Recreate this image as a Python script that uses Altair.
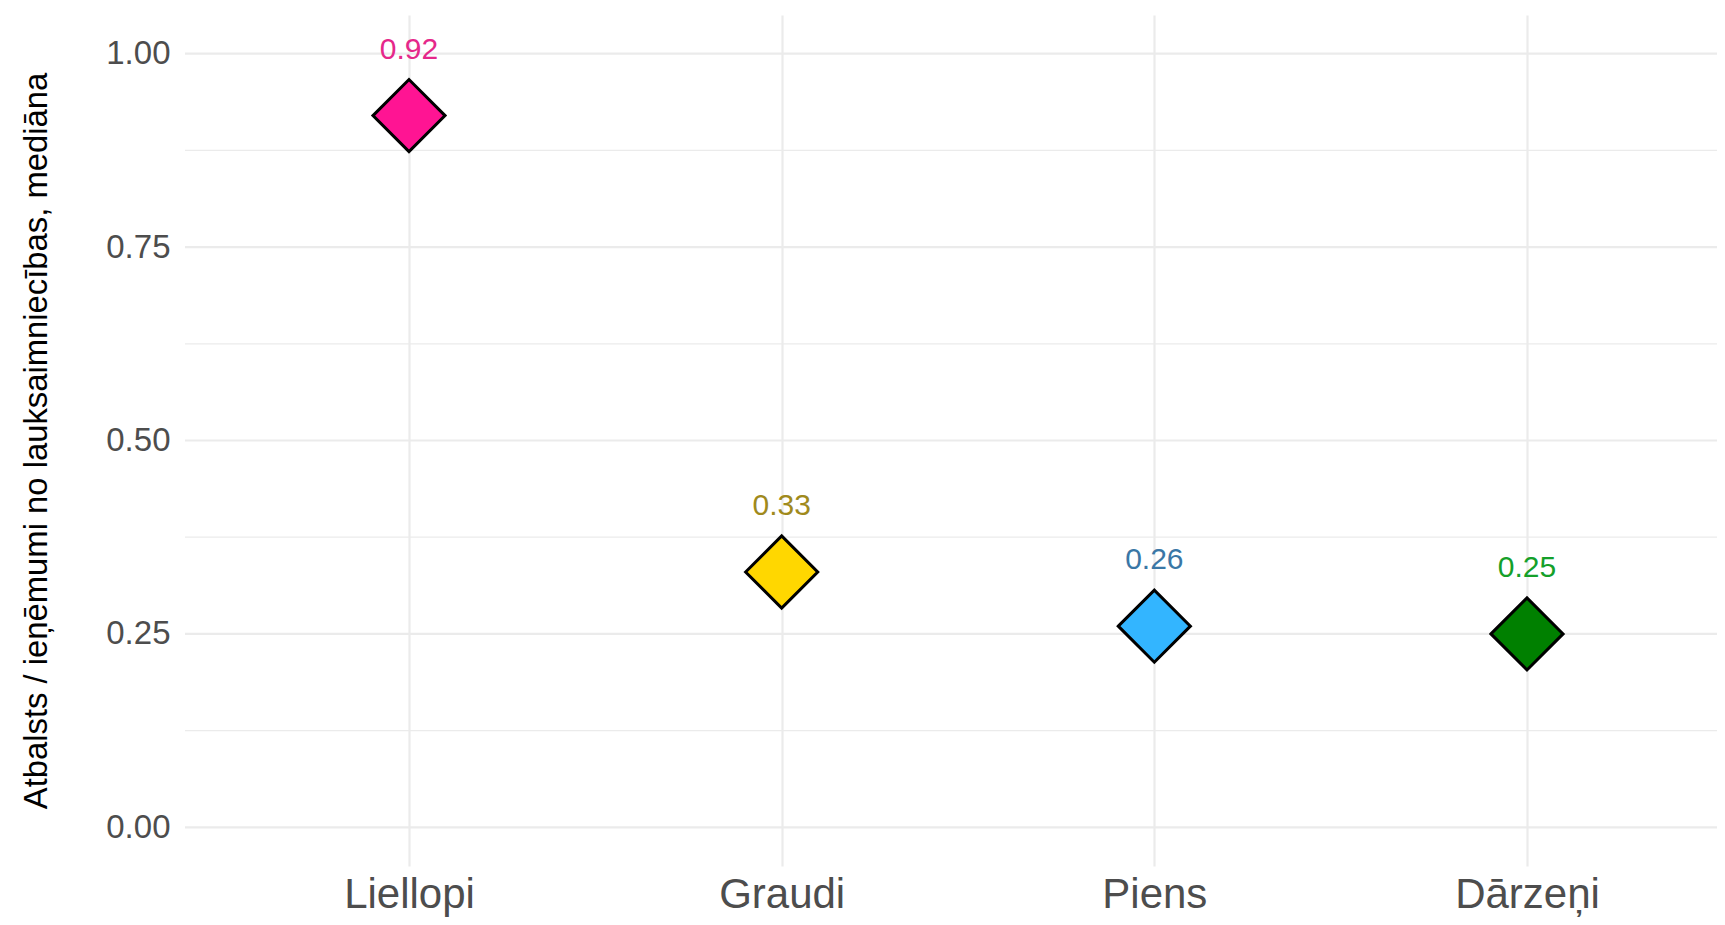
import altair as alt
import pandas as pd

categories = ["Liellopi", "Graudi", "Piens", "Dārzeņi"]
values = [0.92, 0.33, 0.26, 0.25]
labels = ["0.92", "0.33", "0.26", "0.25"]
fill_colors = ["#FF1493", "#FFD700", "#33B5FF", "#008000"]
text_colors = ["#E5288A", "#A08A1C", "#3A77A6", "#14A02A"]
y_ticks = [0.0, 0.25, 0.5, 0.75, 1.0]
y_minor = [0.125, 0.375, 0.625, 0.875]
y_title = "Atbalsts / ieņēmumi no lauksaimniecības, mediāna"

df = pd.DataFrame({"category": categories, "value": values, "label": labels})
minor_df = pd.DataFrame({"m": y_minor})
major_df = pd.DataFrame({"g": y_ticks})

W, H = 1532, 851
font = "Liberation Sans, Arial, sans-serif"

x_scale = alt.Scale(type="point", range=[224, 1342], padding=0)
x_enc = alt.X(
    "category:N",
    sort=categories,
    scale=x_scale,
    axis=alt.Axis(
        title=None, labelAngle=0, labelFont=font, labelFontSize=42,
        labelColor="#4D4D4D", labelBaseline="alphabetic", labelPadding=41,
        ticks=False, tickSize=0, domain=False, grid=True,
        gridColor="#EBEBEB", gridWidth=2.2,
    ),
)
y_scale = alt.Scale(domain=[-0.05, 1.05], nice=False, zero=False)
y_axis = alt.Axis(
    title=y_title, values=y_ticks, format=".2f", labelFont=font,
    labelFontSize=33, labelColor="#4D4D4D", labelPadding=15,
    ticks=False, tickSize=0, domain=False, grid=False,
    titleFont=font, titleFontSize=32.8, titleFontWeight="normal",
    titleColor="#000000", titleX=-149, titleBaseline="middle",
)

minor = alt.Chart(minor_df).mark_rule(color="#EBEBEB", strokeWidth=1.2).encode(
    y=alt.Y("m:Q", scale=y_scale, axis=y_axis),
    x=alt.value(0), x2=alt.value(W),
)

major = alt.Chart(major_df).mark_rule(color="#EBEBEB", strokeWidth=2.2).encode(
    y=alt.Y("g:Q", scale=y_scale, axis=y_axis),
    x=alt.value(0), x2=alt.value(W),
)

points = alt.Chart(df).mark_point(
    shape="diamond", filled=True, size=5200, stroke="black", strokeWidth=3, opacity=1
).encode(
    x=x_enc,
    y=alt.Y("value:Q", scale=y_scale, axis=y_axis),
    fill=alt.Fill("category:N", scale=alt.Scale(domain=categories, range=fill_colors), legend=None),
)

text = alt.Chart(df).mark_text(
    font=font, fontSize=30, dy=-57, baseline="alphabetic"
).encode(
    x=alt.X("category:N", sort=categories, scale=x_scale),
    y=alt.Y("value:Q", scale=y_scale),
    text="label:N",
    color=alt.Color("category:N", scale=alt.Scale(domain=categories, range=text_colors), legend=None),
)

chart = alt.layer(minor, major, points, text).properties(
    width=W, height=H,
    background="white",
    autosize=alt.AutoSizeParams(type="none"),
    padding={"left": 177, "top": 7, "right": 0, "bottom": 51},
).configure_view(stroke=None)

chart.save("out.html", embed_options={"renderer": "svg", "actions": False})
